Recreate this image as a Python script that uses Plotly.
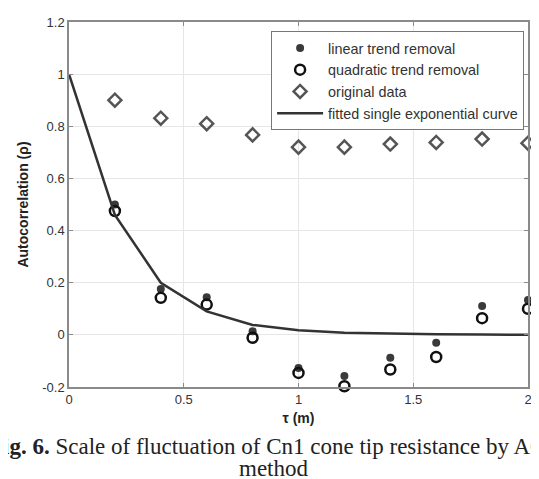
import plotly.graph_objects as go

tau = [0.2, 0.4, 0.6, 0.8, 1.0, 1.2, 1.4, 1.6, 1.8, 2.0]
linear_trend = [0.50, 0.176, 0.144, 0.014, -0.127, -0.158, -0.088, -0.030, 0.111, 0.134]
quadratic_trend = [0.475, 0.142, 0.116, -0.011, -0.146, -0.197, -0.133, -0.085, 0.064, 0.100]
original_data = [0.90, 0.831, 0.810, 0.767, 0.720, 0.720, 0.732, 0.738, 0.751, 0.735]

fit_tau = [0.0, 0.2, 0.4, 0.6, 0.8, 1.0, 1.2, 1.4, 1.6, 1.8, 2.0]
fit_rho = [1.0, 0.46, 0.20, 0.09, 0.038, 0.018, 0.008, 0.004, 0.002, 0.001, 0.0005]

x_ticks = [0, 0.5, 1, 1.5, 2]
x_tick_labels = ["0", "0.5", "1", "1.5", "2"]
y_ticks = [-0.2, 0, 0.2, 0.4, 0.6, 0.8, 1.0, 1.2]
y_tick_labels = ["-0.2", "0", "0.2", "0.4", "0.6", "0.8", "1", "1.2"]

caption_line1 = "<b>Fig. 6.</b> Scale of fluctuation of Cn1 cone tip resistance by ACF"
caption_line2 = "method"

fig = go.Figure()
fig.add_trace(go.Scatter(x=tau, y=linear_trend, mode="markers", name="linear trend removal",
                         cliponaxis=False,
                         marker=dict(symbol="circle", size=8, color="#3a3a3a")))
fig.add_trace(go.Scatter(x=tau, y=quadratic_trend, mode="markers", name="quadratic trend removal",
                         cliponaxis=False,
                         marker=dict(symbol="circle-open", size=10, color="#111111", line=dict(width=2.5))))
fig.add_trace(go.Scatter(x=tau, y=original_data, mode="markers", name="original data",
                         cliponaxis=False,
                         marker=dict(symbol="diamond-open", size=10, color="#555555", line=dict(width=2.5))))
fig.add_trace(go.Scatter(x=fit_tau, y=fit_rho, mode="lines", name="fitted single exponential curve",
                         line=dict(color="#333333", width=2.5)))

axis_common = dict(showgrid=True, gridcolor="#e6e6e6", gridwidth=1, showline=True, linecolor="#8a8a8a",
                   linewidth=1.5, mirror="ticks", ticks="inside", ticklen=4, tickcolor="#8a8a8a",
                   zeroline=False, tickfont=dict(family="Liberation Sans, Arial", size=13, color="#333333"))

fig.update_xaxes(range=[0, 2], tickvals=x_ticks, ticktext=x_tick_labels,
                 title=dict(text="<b>τ (m)</b>", font=dict(family="Liberation Sans, Arial", size=14, color="#222"),
                            standoff=7), **axis_common)
fig.update_yaxes(range=[-0.2, 1.2], tickvals=y_ticks, ticktext=y_tick_labels,
                 title=dict(text="<b>Autocorrelation (ρ)</b>", font=dict(family="Liberation Sans, Arial", size=14, color="#222"),
                            standoff=10), **axis_common)

# The page body has an 8px margin, so the figure is sized to fit the 539x479 window.
fig.update_layout(
    width=531, height=471,
    margin=dict(l=61, r=7, t=12, b=92),
    paper_bgcolor="white", plot_bgcolor="white",
    showlegend=True,
    legend=dict(x=0.9915, y=0.975, xanchor="right", yanchor="top", bgcolor="white",
                bordercolor="#777777", borderwidth=1, tracegroupgap=0, itemwidth=46,
                font=dict(family="Liberation Sans, Arial", size=14.4, color="#333333")),
    annotations=[
        dict(text=caption_line1,
             xref="paper", yref="paper", x=0.445, y=-0.163, xanchor="center", yanchor="middle",
             showarrow=False, align="center",
             font=dict(family="Liberation Serif, Times New Roman", size=23, color="#222222")),
        dict(text=caption_line2,
             xref="paper", yref="paper", x=0.445, y=-0.224, xanchor="center", yanchor="middle",
             showarrow=False, align="center",
             font=dict(family="Liberation Serif, Times New Roman", size=23, color="#222222")),
    ],
)

fig.write_html("out.html")
